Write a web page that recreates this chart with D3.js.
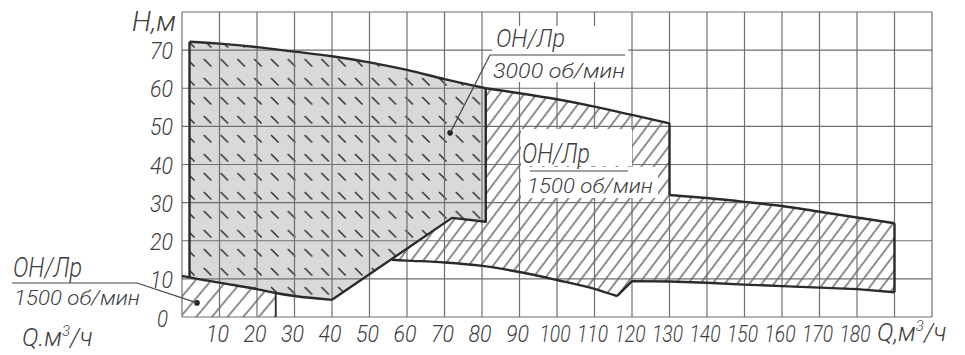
<!DOCTYPE html>
<html>
<head>
<meta charset="utf-8">
<script src="https://cdn.jsdelivr.net/npm/d3@7"></script>
<style>
  body { margin: 0; background: #fff; }
  svg { display: block; font-family: Roboto, "Open Sans", "DejaVu Sans", sans-serif; font-style: italic; font-weight: 300; }
</style>
</head>
<body>
<div id="chart"></div>
<script>
// tick labels
const qTicks = [10, 20, 30, 40, 50, 60, 70, 80, 90, 100, 110, 120, 130, 140, 150, 160, 170, 180];
const hTicks = [0, 10, 20, 30, 40, 50, 60, 70];

// ОН/Лр 3000 об/мин field (Q, H)
const top3000 = [[2, 72.2], [10, 71.7], [20, 70.8], [30, 69.6], [40, 68.4], [50, 66.8], [60, 64.8], [70, 62.4], [81, 60]];
const right3000 = [[81, 60], [81, 25], [72, 26], [40, 4.5]];
// lower boundary shared with small 1500 field
const lowCurve = [[0, 10.8], [2, 10.4], [10, 9.0], [20, 7.3], [25, 6.3], [30, 5.5], [40, 4.5]];

// ОН/Лр 1500 об/мин, small field
const small1500End = 25;

// ОН/Лр 1500 об/мин, big field
const top1500a = [[81, 60], [90, 58.7], [100, 57.1], [110, 55.2], [120, 53.0], [130, 50.8]];
const top1500b = [[130, 32], [140, 31.2], [150, 30.2], [160, 29.1], [170, 27.6], [180, 26.1], [190, 24.6]];
const bottom1500r = [[190, 6.5], [180, 7.3], [170, 7.7], [160, 8.1], [150, 8.5], [140, 9.0], [130, 9.3], [120, 9.4], [116, 5.5]];
const bottom1500l = [[116, 5.5], [110, 7.4], [100, 9.7], [90, 11.8], [80, 13.4], [70, 14.3], [60, 14.8], [56, 15]];

function draw() {
    const svg = d3.select('#chart').append('svg')
        .attr('width', 965)
        .attr('height', 355);

    const x = d3.scaleLinear().domain([0, 200]).range([182, 932]);
    const y = d3.scaleLinear().domain([0, 80]).range([317, 12]);
    const line = d3.line().x(d => x(d[0])).y(d => y(d[1]));
    const curve = d3.line().x(d => x(d[0])).y(d => y(d[1])).curve(d3.curveMonotoneX);

    const ink = '#2b2b2b';
    const textCol = '#3d3d3d';

    // patterns
    const defs = svg.append('defs');
    const hatch = defs.append('pattern')
        .attr('id', 'hatch')
        .attr('patternUnits', 'userSpaceOnUse')
        .attr('width', 9.8).attr('height', 20)
        .attr('patternTransform', 'rotate(37)');
    hatch.append('line')
        .attr('x1', 4.9).attr('y1', 0).attr('x2', 4.9).attr('y2', 20)
        .attr('stroke', '#333').attr('stroke-width', 1.1);

    const hatchWide = defs.append('pattern')
        .attr('id', 'hatchWide')
        .attr('patternUnits', 'userSpaceOnUse')
        .attr('width', 12).attr('height', 20)
        .attr('patternTransform', 'rotate(40)');
    hatchWide.append('line')
        .attr('x1', 6).attr('y1', 0).attr('x2', 6).attr('y2', 20)
        .attr('stroke', '#333').attr('stroke-width', 1.1);

    const dash = defs.append('pattern')
        .attr('id', 'dash')
        .attr('patternUnits', 'userSpaceOnUse')
        .attr('x', 183).attr('y', 36)
        .attr('width', 16.8).attr('height', 19);
    dash.append('line')
        .attr('x1', 4).attr('y1', 4).attr('x2', 11.5).attr('y2', 11.5)
        .attr('stroke', '#2e2e2e').attr('stroke-width', 1.5);

    // polygons
    const gray = top3000.concat(right3000.slice(1), lowCurve.filter(d => d[0] >= 2).reverse());
    const small = [[0, 0]].concat(lowCurve.filter(d => d[0] <= small1500End), [[small1500End, 0]]);
    const big = top1500a.concat(top1500b, bottom1500r, bottom1500l.slice(1), [[72, 26], [81, 25]]);

    svg.append('path').attr('d', line(big) + 'Z').attr('fill', 'url(#hatch)');
    svg.append('path').attr('d', line(small) + 'Z').attr('fill', 'url(#hatchWide)');
    svg.append('path').attr('d', line(gray) + 'Z').attr('fill', '#d9d9d9');
    svg.append('path').attr('d', line(gray) + 'Z').attr('fill', 'url(#dash)');

    // grid
    const grid = svg.append('g').attr('stroke', '#6f6f6f').attr('stroke-width', 1.2);
    grid.selectAll('line.v')
        .data(x.ticks(20))
        .enter().append('line')
        .attr('x1', d => x(d)).attr('x2', d => x(d))
        .attr('y1', y(0)).attr('y2', y(80));
    grid.selectAll('line.h')
        .data(y.ticks(8))
        .enter().append('line')
        .attr('x1', x(0)).attr('x2', x(200))
        .attr('y1', d => y(d)).attr('y2', d => y(d));

    // outlines
    const outline = svg.append('g')
        .attr('fill', 'none').attr('stroke', ink)
        .attr('stroke-width', 2.4).attr('stroke-linejoin', 'round');
    outline.append('path').attr('d', line([[2, 10.4], [2, 72.2]]));
    outline.append('path').attr('d', curve(top3000));
    outline.append('path').attr('d', line(right3000));
    outline.append('path').attr('d', curve(lowCurve));
    outline.append('path').attr('d', line([[small1500End, 6.3], [small1500End, 0]])).attr('stroke-width', 1.8);
    outline.append('path').attr('d', curve(top1500a));
    outline.append('path').attr('d', line([[130, 50.8], [130, 32]]));
    outline.append('path').attr('d', curve(top1500b));
    outline.append('path').attr('d', line([[190, 24.6], [190, 6.5]]));
    outline.append('path').attr('d', line(bottom1500r));
    outline.append('path').attr('d', curve(bottom1500l.slice().reverse()));

    // white backing behind labels
    const bg = svg.append('g').attr('fill', '#fff');
    bg.append('rect').attr('x', 492).attr('y', 26).attr('width', 136).attr('height', 56);
    bg.append('rect').attr('x', 521).attr('y', 129).attr('width', 111).attr('height', 37);
    bg.append('rect').attr('x', 521).attr('y', 167).attr('width', 137).attr('height', 31);

    // tick labels
    svg.append('g')
        .attr('fill', textCol).attr('font-size', 23)
        .selectAll('text')
        .data(qTicks)
        .enter().append('text')
        .attr('x', d => x(d) - 2)
        .attr('y', 342)
        .attr('text-anchor', 'middle')
        .attr('textLength', d => String(d).length === 3 ? 31 : 23)
        .attr('lengthAdjust', 'spacingAndGlyphs')
        .text(d => d);

    svg.append('g')
        .attr('fill', textCol).attr('font-size', 24)
        .selectAll('text')
        .data(hTicks)
        .enter().append('text')
        .attr('x', d => d === 0 ? 168 : 173)
        .attr('y', d => y(d) + (d === 0 ? 10 : 9))
        .attr('text-anchor', 'end')
        .attr('textLength', d => d === 0 ? 11 : 23)
        .attr('lengthAdjust', 'spacingAndGlyphs')
        .text(d => d);

    // axis titles
    svg.append('text')
        .attr('x', 176).attr('y', 31)
        .attr('text-anchor', 'end')
        .attr('font-size', 27).attr('fill', textCol)
        .attr('textLength', 44).attr('lengthAdjust', 'spacingAndGlyphs')
        .text('H,м');

    function qTitle(px, py, sep) {
        const t = svg.append('text')
            .attr('x', px).attr('y', py)
            .attr('font-size', 25).attr('fill', textCol);
        t.append('tspan').text('Q' + sep + 'м');
        t.append('tspan').attr('font-size', 15).attr('dy', -10).text('3');
        t.append('tspan').attr('dy', 10).text('/ч');
    }
    qTitle(877, 341, ',');
    qTitle(22, 346, '.');

    // annotations
    const note = svg.append('g').attr('fill', textCol);
    const lead = svg.append('g').attr('stroke', '#444').attr('stroke-width', 1.2).attr('fill', 'none');

    // 3000 об/мин
    note.append('text').attr('x', 496).attr('y', 47).attr('font-size', 25)
        .attr('textLength', 69).attr('lengthAdjust', 'spacingAndGlyphs').text('ОН/Лр');
    note.append('text').attr('x', 493).attr('y', 78).attr('font-size', 20)
        .attr('textLength', 132).attr('lengthAdjust', 'spacingAndGlyphs').text('3000  об/мин');
    lead.append('path').attr('d', `M${x(71.5)},${y(48.3)}L490,55H625`);
    note.append('circle').attr('cx', x(71.5)).attr('cy', y(48.3)).attr('r', 2.8).attr('fill', '#222');

    // 1500 об/мин, right
    note.append('text').attr('x', 522).attr('y', 163).attr('font-size', 27)
        .attr('textLength', 68).attr('lengthAdjust', 'spacingAndGlyphs').text('ОН/Лр');
    note.append('text').attr('x', 527).attr('y', 193).attr('font-size', 20)
        .attr('textLength', 126).attr('lengthAdjust', 'spacingAndGlyphs').text('1500  об/мин');
    lead.append('path').attr('d', 'M530,171H628');

    // 1500 об/мин, left
    note.append('text').attr('x', 13).attr('y', 277).attr('font-size', 28)
        .attr('textLength', 69).attr('lengthAdjust', 'spacingAndGlyphs').text('ОН/Лр');
    note.append('text').attr('x', 14).attr('y', 305).attr('font-size', 20)
        .attr('textLength', 126).attr('lengthAdjust', 'spacingAndGlyphs').text('1500  об/мин');
    lead.append('path').attr('d', `M12,283H137L${x(4)},${y(3.7)}`);
    note.append('circle').attr('cx', x(4)).attr('cy', y(3.7)).attr('r', 2.8).attr('fill', '#222');
}

draw();
</script>
</body>
</html>
